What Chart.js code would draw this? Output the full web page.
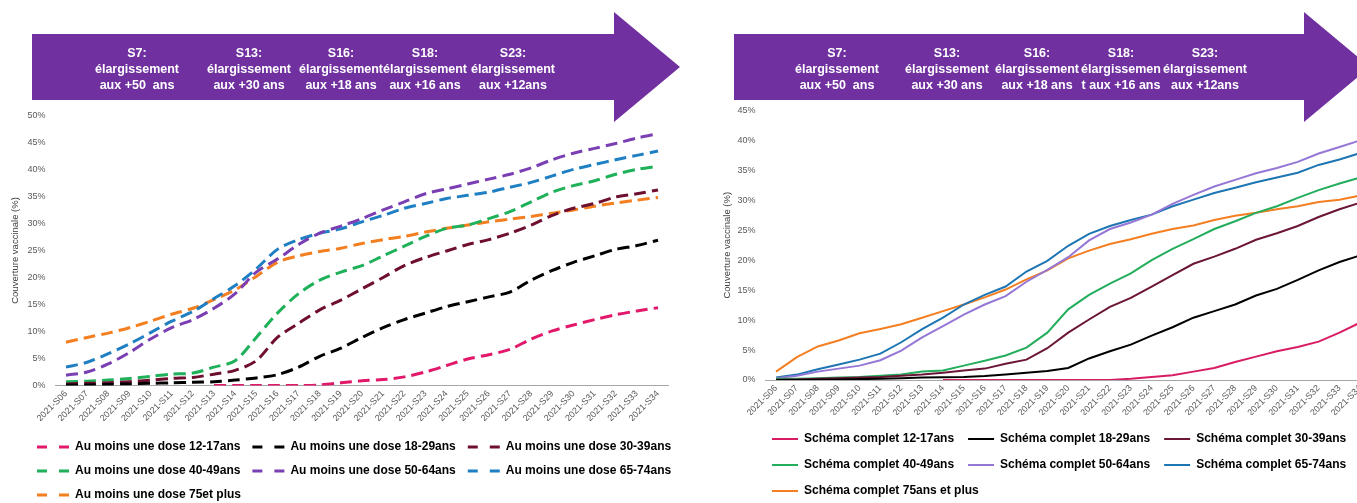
<!DOCTYPE html>
<html lang="fr">
<head>
<meta charset="utf-8">
<script src="https://cdn.jsdelivr.net/npm/chart.js@4.4.1/dist/chart.umd.min.js"></script>
<style>
  html,body{margin:0;padding:0;background:#fff;}
  body{width:1357px;height:503px;overflow:hidden;position:relative;font-family:'Liberation Sans',Arial,sans-serif;}
  canvas{position:absolute;}
  #banner{position:absolute;left:0;top:0;z-index:2;}
  .note{position:absolute;top:45px;transform:translateX(-50%);color:#fff;font-weight:bold;font-size:12.5px;line-height:16px;text-align:center;white-space:pre;z-index:3;}
</style>
</head>
<body>
<svg id="banner" width="1357" height="130">
  <polygon points="32,34 614,34 614,12 680,67 614,122 614,100 32,100" fill="#7030a0"/>
  <polygon points="734,34 1304,34 1304,12 1370,67 1304,122 1304,100 734,100" fill="#7030a0"/>
</svg>
<div id="notes"></div>
<canvas id="left" width="690" height="403" style="left:0px;top:100px"></canvas>
<canvas id="right" width="671" height="408" style="left:700px;top:95px"></canvas>
<script>
// ---------- data ----------
const weeks = ['2021-S06','2021-S07','2021-S08','2021-S09','2021-S10','2021-S11','2021-S12','2021-S13','2021-S14','2021-S15',
  '2021-S16','2021-S17','2021-S18','2021-S19','2021-S20','2021-S21','2021-S22','2021-S23','2021-S24','2021-S25',
  '2021-S26','2021-S27','2021-S28','2021-S29','2021-S30','2021-S31','2021-S32','2021-S33','2021-S34'];

// Au moins une dose (%)
const dose1_12_17 = [null,null,null,null,null,null,null,0,0,0,0,0,0.1,0.5,0.9,1.1,1.6,2.5,3.7,4.9,5.7,6.7,8.6,10.1,11.2,12.2,13.1,13.8,14.4];
const dose1_18_29 = [0.1,0.1,0.2,0.3,0.4,0.5,0.6,0.7,1.0,1.4,2.0,3.4,5.4,6.9,8.9,10.7,12.2,13.4,14.6,15.5,16.4,17.3,19.5,21.3,22.8,24.0,25.2,25.9,26.9];
const dose1_30_39 = [0.3,0.4,0.5,0.7,1.0,1.3,1.5,2.1,2.8,4.6,8.9,11.5,14.0,15.8,17.9,20.0,22.2,23.7,24.9,26.1,27.0,28.2,29.7,31.5,32.8,33.7,34.9,35.5,36.2];
const dose1_40_49 = [0.7,0.8,1.0,1.3,1.7,2.1,2.3,3.4,4.6,8.9,13.4,17.0,19.5,21.0,22.2,24.0,25.8,27.6,29.1,29.7,30.9,32.2,34.0,35.8,37.0,37.9,39.1,40.0,40.6];
const dose1_50_64 = [1.9,2.5,4.0,6.1,8.6,10.7,12.2,14.3,17.0,21.0,23.4,26.1,28.2,29.5,30.9,32.5,34.0,35.5,36.4,37.3,38.2,39.1,40.3,41.8,43.0,43.9,44.8,45.8,46.6];
const dose1_65_74 = [3.4,4.3,5.9,7.7,9.8,11.9,13.7,16.1,18.5,21.6,25.2,27.0,28.2,29.0,30.3,31.5,32.8,33.7,34.6,35.2,35.8,36.7,37.6,38.8,40.0,40.9,41.8,42.6,43.4];
const dose1_75plus = [8.0,8.9,9.7,10.7,11.9,13.2,14.3,15.9,17.7,20.2,22.8,24.0,24.8,25.4,26.3,27.0,27.6,28.4,29.1,29.7,30.3,30.8,31.3,31.9,32.5,33.2,33.8,34.3,34.8];

// Schéma complet (%)
const full_12_17 = [null,null,null,null,null,null,null,null,0,0,0,0,0,0,0,0,0,0.2,0.5,0.8,1.4,2.0,3.0,3.9,4.8,5.5,6.4,7.9,9.6];
const full_18_29 = [0,0,0.05,0.1,0.15,0.2,0.3,0.4,0.45,0.5,0.65,0.9,1.2,1.5,2.0,3.6,4.8,5.9,7.4,8.8,10.4,11.5,12.6,14.1,15.2,16.7,18.3,19.7,20.8];
const full_30_39 = [0.05,0.1,0.2,0.3,0.4,0.5,0.7,0.9,1.2,1.6,1.9,2.7,3.4,5.3,7.9,10.1,12.2,13.7,15.6,17.5,19.4,20.6,21.9,23.4,24.5,25.7,27.2,28.5,29.6];
const full_40_49 = [0.2,0.2,0.3,0.4,0.5,0.7,0.9,1.4,1.6,2.4,3.2,4.1,5.4,7.9,11.8,14.2,16.1,17.8,20.0,21.9,23.5,25.2,26.5,27.9,29.0,30.4,31.7,32.8,33.8];
const full_50_64 = [0.3,0.7,1.4,1.9,2.4,3.3,4.9,7.1,9.0,10.9,12.6,14.0,16.4,18.4,20.5,23.3,25.2,26.3,27.6,29.4,30.9,32.3,33.4,34.5,35.4,36.4,37.8,38.9,40.0];
const full_65_74 = [0.4,0.9,1.8,2.6,3.4,4.4,6.3,8.5,10.4,12.6,14.2,15.6,18.1,19.9,22.4,24.4,25.7,26.7,27.6,29.0,30.1,31.2,32.1,33.0,33.8,34.6,35.9,36.8,37.9];
const full_75plus = [1.4,3.8,5.6,6.6,7.8,8.5,9.3,10.4,11.5,12.6,13.8,15.1,16.8,18.3,20.3,21.6,22.7,23.5,24.4,25.2,25.8,26.7,27.4,27.9,28.5,29.0,29.7,30.1,30.8];

const leftNames = ['Au moins une dose 12-17ans','Au moins une dose 18-29ans','Au moins une dose 30-39ans',
  'Au moins une dose 40-49ans','Au moins une dose 50-64ans','Au moins une dose 65-74ans','Au moins une dose 75et plus'];
const rightNames = ['Schéma complet 12-17ans','Schéma complet 18-29ans','Schéma complet 30-39ans',
  'Schéma complet 40-49ans','Schéma complet 50-64ans','Schéma complet 65-74ans','Schéma complet 75ans et plus'];

const leftTickMax = 50, rightTickMax = 45, tickStep = 5;
const yTitle = 'Couverture vaccinale (%)';

// banner annotations [centerX, text]
const leftNotes = [[137,'S7:\nélargissement\naux +50  ans'],[249,'S13:\nélargissement\naux +30 ans'],[341,'S16:\nélargissement\naux +18 ans'],
  [425,'S18:\nélargissement\naux +16 ans'],[513,'S23:\nélargissement\naux +12ans']];
const rightNotes = [[837,'S7:\nélargissement\naux +50  ans'],[947,'S13:\nélargissement\naux +30 ans'],[1037,'S16:\nélargissement\naux +18 ans'],
  [1121,'S18:\nélargissemen\nt aux +16 ans'],[1205,'S23:\nélargissement\naux +12ans']];

// ---------- styles ----------
const leftColors = ['#e2196b','#000000','#6e0f30','#1fb05a','#7b3fb4','#1f7fc3','#f47f20'];
const rightColors = ['#d81c64','#000000','#6b1537','#23ad5c','#9577d6','#1d76b3','#f47f22'];
const F = "'Liberation Sans', Arial, sans-serif";

const notesEl = document.getElementById('notes');
[...leftNotes, ...rightNotes].forEach(([x, t]) => {
  const d = document.createElement('div');
  d.className = 'note'; d.style.left = x + 'px'; d.textContent = t;
  notesEl.appendChild(d);
});

const legendShift = {
  id: 'legendShift',
  afterLayout(chart, args, opts) {
    const l = chart.legend; if (!l) return;
    l.left += opts.dx || 0; l.right += opts.dx || 0;
    l.top += opts.dy || 0; l.bottom += opts.dy || 0;
  }
};

function makeChart(id, series, names, colors, cfg) {
  const datasets = series.map((d, i) => ({
    label: names[i], data: d, borderColor: colors[i], backgroundColor: colors[i],
    borderWidth: cfg.lineWidth, borderDash: cfg.dash, tension: cfg.tension,
    pointRadius: 0, pointHoverRadius: 0, fill: false, spanGaps: false
  }));
  return new Chart(document.getElementById(id), {
    type: 'line',
    data: { labels: weeks, datasets },
    options: {
      responsive: false, animation: false, devicePixelRatio: 1,
      layout: { padding: cfg.padding },
      scales: {
        x: {
          offset: true,
          grid: { display: false, drawTicks: false },
          border: { display: true, color: '#a6a6a6', width: 1 },
          ticks: { autoSkip: false, maxRotation: 45, minRotation: 45, padding: 3, color: '#595959', font: { size: 9, family: F } },
          afterFit: s => { s.height = cfg.xHeight; }
        },
        y: {
          min: 0, max: cfg.max,
          grid: { display: false, drawTicks: false },
          border: { display: false },
          ticks: { stepSize: tickStep, padding: 10, color: '#595959', font: { size: 9, family: F }, callback: v => v + '%' },
          title: { display: true, text: yTitle, color: '#404040', font: { size: 9.5, family: F }, padding: { top: cfg.titlePad, bottom: 0 } },
          afterFit: s => { s.width = cfg.yWidth; }
        }
      },
      plugins: {
        tooltip: { enabled: false },
        legend: {
          position: 'bottom', align: 'start',
          labels: {
            usePointStyle: true, pointStyle: 'line', pointStyleWidth: cfg.boxW,
            padding: cfg.legPad, color: '#000', font: { size: 12, weight: 'bold', family: F },
            generateLabels: chart => Chart.defaults.plugins.legend.labels.generateLabels(chart).map(it => {
              it.lineDash = cfg.legendDash; it.pointStyle = 'line'; return it;
            })
          }
        },
        legendShift: { dx: cfg.dx, dy: cfg.dy }
      }
    },
    plugins: [legendShift]
  });
}

makeChart('left',
  [dose1_12_17, dose1_18_29, dose1_30_39, dose1_40_49, dose1_50_64, dose1_65_74, dose1_75plus],
  leftNames, leftColors,
  { lineWidth: 3, dash: [12, 6], legendDash: [10, 12], tension: 0.3, max: leftTickMax,
    padding: { top: 10, left: 0, right: 21.4, bottom: 0 }, xHeight: 35.5, yWidth: 55.4, titlePad: 10,
    boxW: 32, legPad: 12, dx: 25, dy: 8 });

makeChart('right',
  [full_12_17, full_18_29, full_30_39, full_40_49, full_50_64, full_65_74, full_75plus],
  rightNames, rightColors,
  { lineWidth: 2, dash: [], legendDash: [], tension: 0, max: rightTickMax,
    padding: { top: 11, left: 0, right: 0, bottom: 0 }, xHeight: 35, yWidth: 65.6, titlePad: 22,
    boxW: 26, legPad: 14, dx: 58, dy: 4 });
</script>
</body>
</html>
